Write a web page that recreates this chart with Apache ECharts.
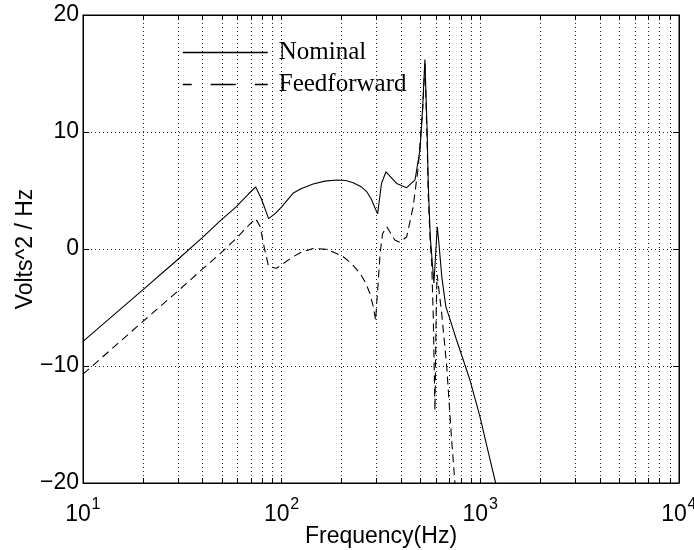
<!DOCTYPE html>
<html>
<head>
<meta charset="utf-8">
<script src="https://cdn.jsdelivr.net/npm/echarts@6/dist/echarts.min.js"></script>
<style>
  html, body { margin: 0; padding: 0; background: #fff; }
  #chart { width: 694px; height: 550px; }
</style>
</head>
<body>
<div id="chart"></div>
<script>
// Power spectral density, nominal vs. feedforward controller
const nominalFreq  = [10, 20, 30, 40, 49, 59, 68, 74, 79, 86, 93, 100, 114, 125, 144, 165, 189, 210, 229, 250, 268, 282, 295, 304, 318, 335, 379, 426, 469, 497, 513, 526, 540, 547, 560, 584, 607, 618, 640, 670, 703, 760, 887, 995, 1110, 1194];
const nominalLevel = [-7.9, -3.5, -0.9, 1.0, 2.4, 3.6, 4.7, 5.3, 4.3, 2.6, 3.05, 3.6, 4.76, 5.15, 5.56, 5.8, 5.9, 5.85, 5.67, 5.35, 4.9, 4.3, 3.5, 3.0, 5.6, 6.6, 5.6, 5.24, 5.9, 8.5, 12.2, 16.2, 10.0, 5.5, 1.0, -2.9, 1.9, 0.6, -2.4, -4.9, -6.0, -7.8, -11.2, -14.3, -17.75, -20];

const feedforwardFreq  = [10, 20, 30, 40, 49, 59, 68, 74, 78, 82, 86, 94, 100, 114, 125, 144, 168, 190, 204, 225, 248, 265, 278, 290, 297, 313, 322, 338, 371, 394, 426, 459, 487, 513, 526, 540, 547, 560, 569, 580, 591, 600, 606, 614, 639, 677, 717, 745];
const feedforwardLevel = [-10.7, -6.2, -3.6, -1.7, -0.4, 0.9, 2.0, 2.6, 1.9, 0.0, -1.5, -1.65, -1.35, -0.66, -0.3, 0.05, -0.03, -0.4, -0.66, -1.25, -2.08, -2.9, -3.8, -5.0, -6.1, -0.4, 1.3, 1.9, 0.77, 0.57, 1.05, 3.6, 7.0, 12.0, 16.0, 9.0, 4.5, 0.5, -1.2, -6.0, -13.8, -5.0, -2.2, -2.3, -5.5, -10.0, -16.3, -20];

// Axis ticks
const decadeTicks = [10, 100, 1000, 10000];
const logGridTicks = [10, 20, 30, 40, 50, 60, 70, 80, 90,
                      100, 200, 300, 400, 500, 600, 700, 800, 900,
                      1000, 2000, 3000, 4000, 5000, 6000, 7000, 8000, 9000, 10000];
const levelTicks = [-20, -10, 0, 10, 20];

const pair = (xs, ys) => xs.map((x, i) => [x, ys[i]]);

const gridDots = { color: '#222', width: 1, type: [1, 3] };
const labelFont = 'Liberation Sans, Arial, Helvetica, sans-serif';

const chart = echarts.init(document.getElementById('chart'), null, { renderer: 'canvas' });

chart.setOption({
  animation: false,
  backgroundColor: '#fff',
  color: ['#000', '#000'],
  grid: {
    left: 83, right: 15, top: 15, bottom: 67,
    containLabel: false, outerBoundsMode: 'none',
    show: true, borderColor: '#000', borderWidth: 1
  },
  legend: {
    orient: 'vertical',
    left: 177,
    top: 35,
    itemWidth: 85,
    itemHeight: 14,
    itemGap: 7,
    itemStyle: { opacity: 0 },
    textStyle: { fontFamily: 'Liberation Serif, Times New Roman, serif', fontSize: 25, lineHeight: 25, color: '#000', padding: [0, 0, 0, 6] },
    data: [
      { name: 'Nominal', itemStyle: { opacity: 0 }, lineStyle: { color: '#000', width: 1.5, type: 'solid' } },
      { name: 'Feedforward', itemStyle: { opacity: 0 }, lineStyle: { color: '#000', width: 1.5, type: [25, 19], dashOffset: 16 } }
    ]
  },
  xAxis: [
    {
      type: 'log', logBase: 10, min: 10, max: 10000,
      name: 'Frequency(Hz)', nameLocation: 'middle', nameGap: 42, nameMoveOverlap: false,
      nameTextStyle: { fontFamily: labelFont, fontSize: 23, color: '#000' },
      axisLine: { show: true, onZero: false, lineStyle: { color: '#000', width: 1 } },
      axisTick: { show: true, inside: true, length: 5, customValues: logGridTicks, lineStyle: { color: '#000' } },
      splitLine: { show: true, lineStyle: gridDots },
      axisLabel: {
        customValues: decadeTicks,
        margin: 20,
        color: '#000',
        // power-of-ten label: exponent on its own short line, raised to the right of "10"
        formatter: v => '{s|' + Math.round(Math.log10(v)) + '}\n{b|10}',
        rich: {
          b: { fontFamily: labelFont, fontSize: 23, lineHeight: 15, color: '#000', padding: [0, 10, 0, 0] },
          s: { fontFamily: labelFont, fontSize: 16, lineHeight: 4, color: '#000', padding: [0, 0, 0, 26] }
        }
      }
    },
    {
      type: 'log', logBase: 10, min: 10, max: 10000, position: 'top',
      axisLine: { show: true, onZero: false, lineStyle: { color: '#000', width: 1 } },
      axisTick: { show: true, inside: true, length: 5, customValues: logGridTicks, lineStyle: { color: '#000' } },
      axisLabel: { show: false },
      splitLine: { show: false }
    }
  ],
  yAxis: [
    {
      type: 'value', min: -20, max: 20, interval: 10,
      name: 'Volts^2 / Hz', nameLocation: 'middle', nameGap: 46, nameMoveOverlap: false,
      nameTextStyle: { fontFamily: labelFont, fontSize: 23, color: '#000' },
      axisLine: { show: true, onZero: false, lineStyle: { color: '#000', width: 1 } },
      axisTick: { show: true, inside: true, length: 6, lineStyle: { color: '#000' } },
      splitLine: { show: true, lineStyle: gridDots },
      axisLabel: {
        margin: 4, color: '#000', fontFamily: labelFont, fontSize: 23,
        formatter: v => (v < 0 ? '\u2212' + Math.abs(v) : String(v))
      }
    },
    {
      type: 'value', min: -20, max: 20, interval: 10, position: 'right',
      axisLine: { show: true, onZero: false, lineStyle: { color: '#000', width: 1 } },
      axisTick: { show: true, inside: true, length: 6, lineStyle: { color: '#000' } },
      axisLabel: { show: false },
      splitLine: { show: false }
    }
  ],
  series: [
    {
      name: 'Nominal', type: 'line', xAxisIndex: 0, yAxisIndex: 0,
      data: pair(nominalFreq, nominalLevel),
      showSymbol: false, symbol: 'none', smooth: false, clip: true,
      itemStyle: { color: '#000' },
      lineStyle: { color: '#000', width: 1.1, type: 'solid' }
    },
    {
      name: 'Feedforward', type: 'line', xAxisIndex: 0, yAxisIndex: 0,
      data: pair(feedforwardFreq, feedforwardLevel),
      showSymbol: false, symbol: 'none', smooth: false, clip: true,
      itemStyle: { color: '#000' },
      lineStyle: { color: '#000', width: 1.1, type: [8, 5] }
    }
  ]
});
</script>
</body>
</html>
